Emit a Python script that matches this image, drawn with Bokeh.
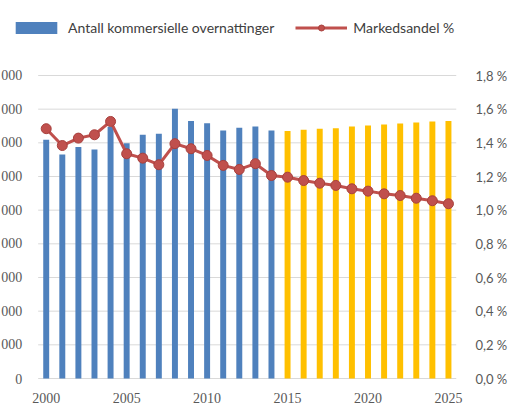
from bokeh.plotting import figure
from bokeh.models import (Range1d, LinearAxis, FixedTicker, CustomJSTickFormatter,
                          Legend, LegendItem, ColumnDataSource)
from bokeh.core.properties import value
from bokeh.embed import file_html
from bokeh.resources import INLINE

# ---- data ----
years_hist = list(range(2000, 2015))
years_proj = list(range(2015, 2026))
overnatt_hist = [28.36e6, 26.6e6, 27.5e6, 27.2e6, 29.9e6, 27.95e6, 28.95e6, 29.07e6,
                 32.04e6, 30.6e6, 30.33e6, 29.46e6, 29.78e6, 29.94e6, 29.46e6]
overnatt_proj = [29.4e6, 29.54e6, 29.66e6, 29.74e6, 29.94e6, 30.06e6, 30.17e6,
                 30.29e6, 30.41e6, 30.53e6, 30.6e6]
years_all = list(range(2000, 2026))
markedsandel = [1.484, 1.384, 1.428, 1.448, 1.527, 1.335, 1.309, 1.27, 1.395, 1.365,
                1.325, 1.266, 1.242, 1.276, 1.206, 1.196, 1.176, 1.16, 1.147, 1.127,
                1.113, 1.097, 1.087, 1.071, 1.056, 1.038]
x_ticks = [2000, 2005, 2010, 2015, 2020, 2025]
left_ticks = [0, 4000000, 8000000, 12000000, 16000000, 20000000, 24000000,
              28000000, 32000000, 36000000]
right_ticks = [0.0, 0.2, 0.4, 0.6, 0.8, 1.0, 1.2, 1.4, 1.6, 1.8]

label_hist = "Antall kommersielle overnattinger"
label_line = "Markedsandel %"

BLUE = "#4F81BD"
YELLOW = "#FFC000"
RED = "#C0504D"
GRID = "#D9D9D9"
TXT = "#595959"

# ---- geometry (pixels) ----
FRAME_W, FRAME_H = 460, 386          # frame covers legend strip and left labels
PLOT_L, PLOT_T, PLOT_B = 38, 75, 378  # actual plot area inside the frame
x0, x1 = years_all[0] - 0.5, years_all[-1] + 0.5
px_per_year = (FRAME_W - PLOT_L) / (x1 - x0)
y_max = left_ticks[-1]
pct_max = right_ticks[-1]
px_per_y = (PLOT_B - PLOT_T) / y_max
px_per_pct = (PLOT_B - PLOT_T) / pct_max

p = figure(width=FRAME_W + 50, height=FRAME_H + 22, output_backend="svg",
           toolbar_location=None, y_axis_location=None,
           x_range=Range1d(x0 - PLOT_L / px_per_year, x1),
           y_range=Range1d(-(FRAME_H - PLOT_B) / px_per_y, PLOT_B / px_per_y),
           min_border_left=0, min_border_right=50, min_border_top=0,
           min_border_bottom=22)
p.margin = (0, 0, 0, 0)
p.outline_line_color = None
p.background_fill_color = "white"
p.border_fill_color = "white"
p.extra_y_ranges = {"pct": Range1d(-(FRAME_H - PLOT_B) / px_per_pct, PLOT_B / px_per_pct)}

# gridlines only across the plot area
grid_src = ColumnDataSource(dict(y=left_ticks, x0=[x0] * len(left_ticks),
                                 x1=[x1] * len(left_ticks)))
p.segment(x0="x0", y0="y", x1="x1", y1="y", source=grid_src,
          line_color=GRID, line_width=1)

# left tick labels (cut off at the left edge, as in the original)
lab_src = ColumnDataSource(dict(
    x=[x0 - 16 / px_per_year] * len(left_ticks), y=left_ticks,
    t=["{:,}".format(v).replace(",", " ") for v in left_ticks]))
p.text(x="x", y="y", text="t", source=lab_src, text_align="right",
       text_baseline="middle", text_font=value("Liberation Serif"),
       text_font_size="14px", text_color=TXT)

src_h = ColumnDataSource(dict(x=years_hist, y=overnatt_hist))
src_p = ColumnDataSource(dict(x=years_proj, y=overnatt_proj))
src_l = ColumnDataSource(dict(x=years_all, y=markedsandel))

bar_h = p.vbar(x="x", top="y", width=0.37, source=src_h, fill_color=BLUE, line_color=None)
bar_p = p.vbar(x="x", top="y", width=0.37, source=src_p, fill_color=YELLOW, line_color=None)
ln = p.line(x="x", y="y", source=src_l, y_range_name="pct", line_color=RED, line_width=3)
sc = p.scatter(x="x", y="y", source=src_l, y_range_name="pct", size=10,
               fill_color=RED, line_color="#A8403D", line_width=1)

p.xaxis.ticker = FixedTicker(ticks=x_ticks)
p.xaxis.axis_line_color = None
p.xaxis.major_tick_line_color = None
p.xaxis.minor_tick_line_color = None
p.xaxis.major_label_standoff = 0
p.xaxis.major_label_text_font = "Liberation Serif"
p.xaxis.major_label_text_font_size = "14px"
p.xaxis.major_label_text_color = TXT

ax_r = LinearAxis(y_range_name="pct", ticker=FixedTicker(ticks=right_ticks),
                  formatter=CustomJSTickFormatter(
                      code="return tick.toFixed(1).replace('.', ',') + ' %';"))
ax_r.axis_line_color = None
ax_r.major_tick_line_color = None
ax_r.minor_tick_line_color = None
ax_r.major_label_standoff = 13
ax_r.major_label_text_font = "Lato"
ax_r.major_label_text_font_size = "13px"
ax_r.major_label_text_color = TXT
p.add_layout(ax_r, "right")

p.xgrid.grid_line_color = None
p.ygrid.grid_line_color = None

legend = Legend(items=[LegendItem(label=label_hist, renderers=[bar_h]),
                       LegendItem(label=label_line, renderers=[ln, sc])],
                orientation="horizontal", location=(6, FRAME_H - 40),
                glyph_width=52, glyph_height=15, label_standoff=6, spacing=21,
                padding=4, margin=0, border_line_alpha=0, background_fill_alpha=0,
                label_text_font="Lato", label_text_font_size="14px",
                label_text_color="#404040")
p.add_layout(legend)

open("out.html", "w").write(file_html(p, INLINE))
